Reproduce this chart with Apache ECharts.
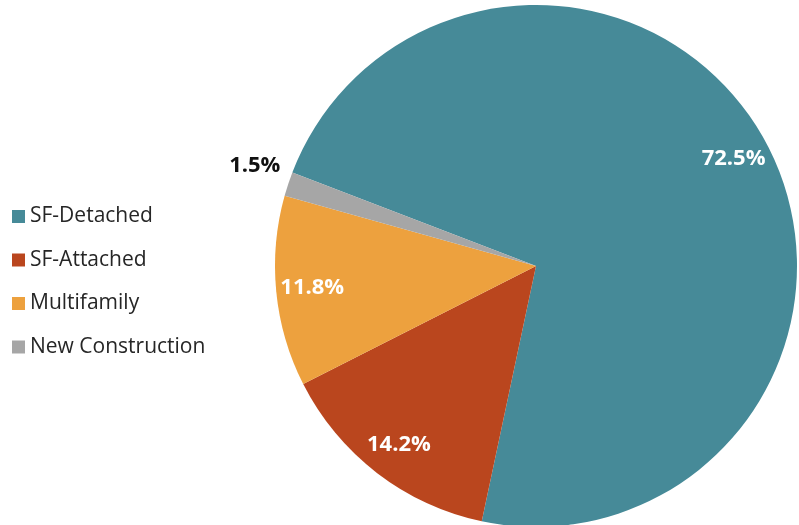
<!DOCTYPE html>
<html>
<head>
<meta charset="utf-8">
<script src="https://cdn.jsdelivr.net/npm/echarts@6/dist/echarts.min.js"></script>
<style>html,body{margin:0;padding:0;background:#fff}#c{width:799px;height:525px}</style>
</head>
<body>
<div id="c"></div>
<script>
const categories = ['SF-Detached', 'SF-Attached', 'Multifamily', 'New Construction'];
const values = [72.5, 14.2, 11.8, 1.5];
const colors = ['#468A98', '#BA461E', '#EDA13E', '#A6A6A6'];

const chart = echarts.init(document.getElementById('c'));
const R = 261;
const center = [536, 266];
const font = '"Open Sans", Lato, sans-serif';

const baseData = categories.map((n, i) => ({ name: n, value: values[i], itemStyle: { color: colors[i] } }));
const labelData = categories.map((n, i) => {
  const outside = values[i] < 5;
  return {
    name: n, value: values[i],
    itemStyle: { color: 'rgba(0,0,0,0)' },
    label: outside
      ? { show: true, position: 'outside', color: '#111111', offset: [1, -17] }
      : { show: true, position: 'inside', color: '#ffffff' },
    labelLine: { show: false, length: 4, length2: 0 }
  };
});

chart.setOption({
  animation: false,
  legend: {
    orient: 'vertical', left: 7, top: 201,
    itemWidth: 13, itemHeight: 13, itemGap: 22.5,
    icon: 'rect',
    textStyle: { fontFamily: font, fontSize: 21, color: '#262626', padding: [0, 0, 0, 0] },
    data: categories
  },
  series: [
    {
      type: 'pie', center: center, radius: [0, R], startAngle: 159, clockwise: true,
      label: { show: false }, labelLine: { show: false }, silent: true,
      data: baseData
    },
    {
      type: 'pie', center: center, radius: [R * 0.7, R], startAngle: 159, clockwise: true,
      silent: true, legendHoverLink: false,
      label: { fontFamily: font, fontSize: 22, fontWeight: 'bold', formatter: p => p.value.toFixed(1) + '%' },
      data: labelData
    }
  ]
});
</script>
</body>
</html>
